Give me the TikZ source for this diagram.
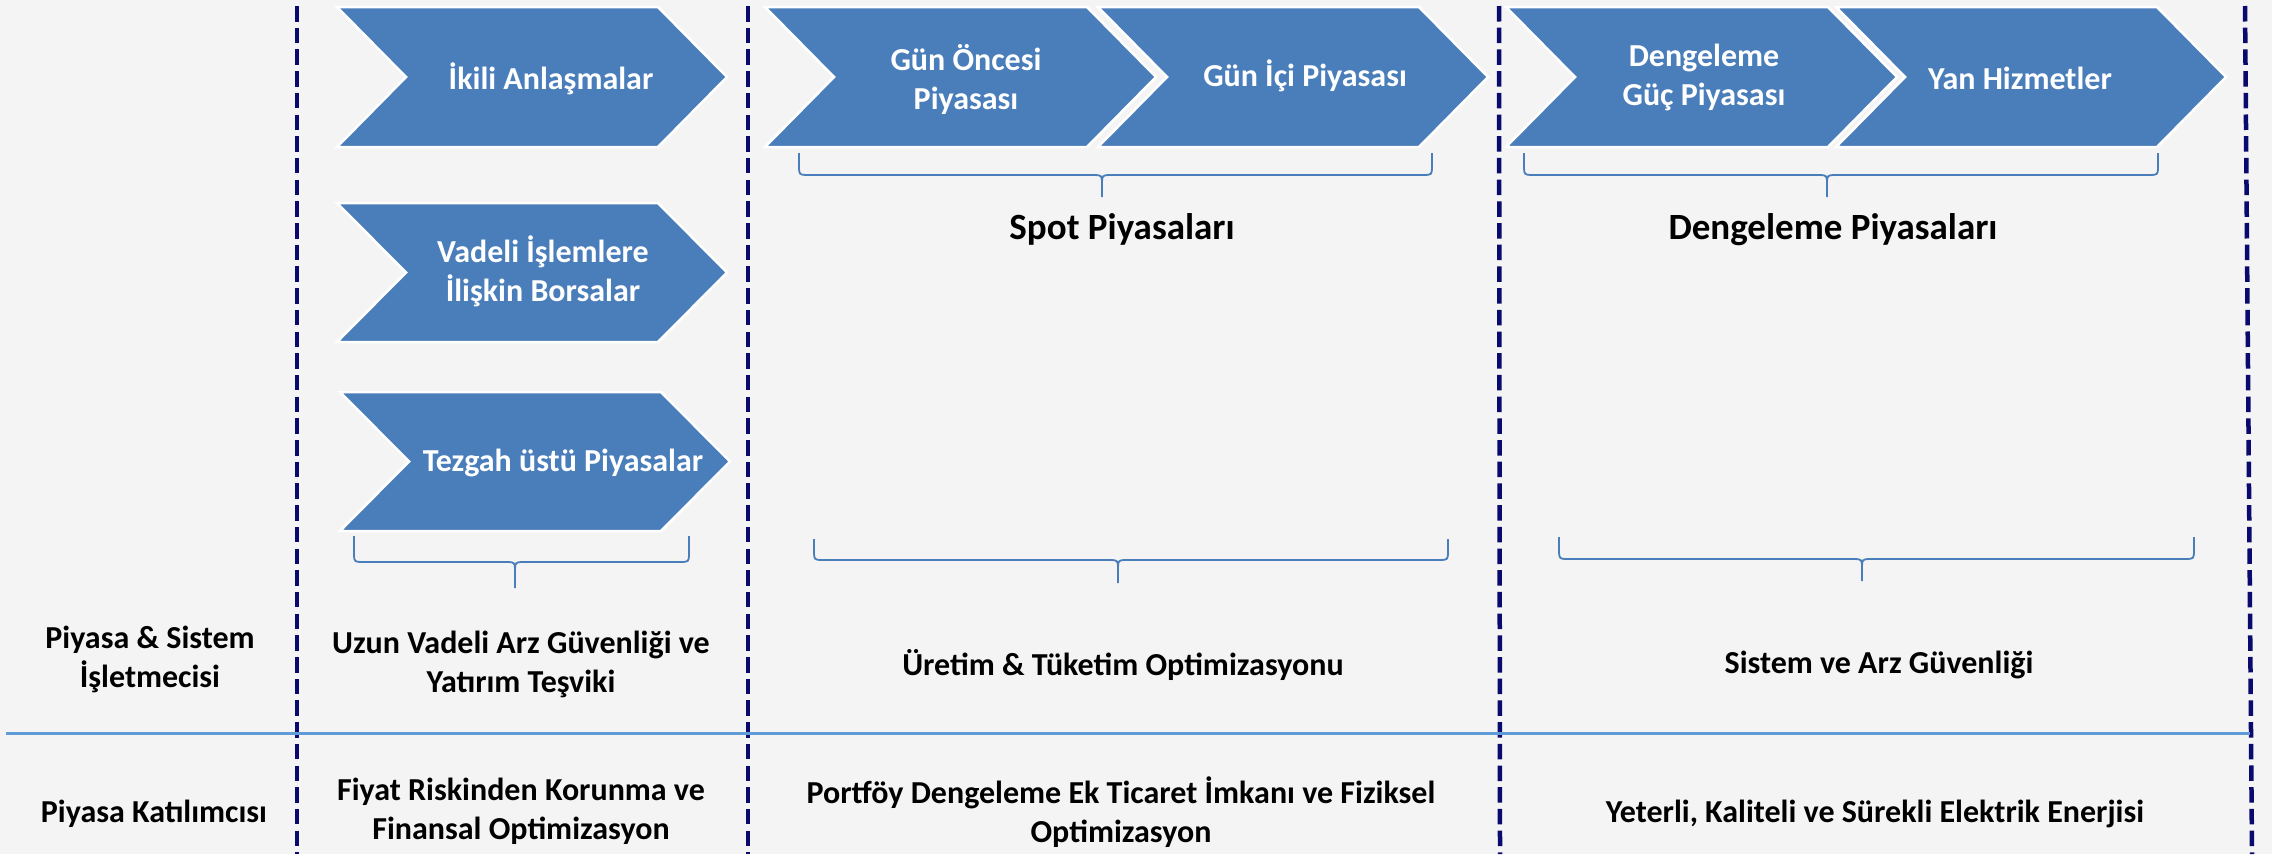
\documentclass[tikz,border=0pt]{standalone}
\usepackage{fontspec}
\setmainfont{Carlito}
\definecolor{bg}{RGB}{244,244,244}
\definecolor{chevblue}{RGB}{74,126,187}
\definecolor{navy}{RGB}{10,10,110}
\definecolor{lineblue}{RGB}{95,155,215}
\newcommand{\chevron}[4]{%
  \path[chev] (#1,#3) -- (#2,#3) -- ({#2+69},{(#3+#4)/2}) -- (#2,#4) -- (#1,#4) -- ({#1+69},{(#3+#4)/2}) -- cycle;}
\newcommand{\mybrace}[6]{% xL xR xC yT yM yB
  \draw[brc] (#1,#4) -- (#1,{#5-7}) .. controls (#1,{#5-1}) and ({#1+1},#5) .. ({#1+7},#5)
     -- ({#3-7},#5) .. controls ({#3-1},#5) and (#3,{#5+1}) .. (#3,{#5+7}) -- (#3,#6);
  \draw[brc] (#2,#4) -- (#2,{#5-7}) .. controls (#2,{#5-1}) and ({#2-1},#5) .. ({#2-7},#5)
     -- ({#3+7},#5) .. controls ({#3+1},#5) and (#3,{#5+1}) .. (#3,{#5+7});}
\begin{document}
\begin{tikzpicture}[x=1pt,y=-1pt,
  chev/.style={fill=chevblue, draw=white, line width=2.5pt, line join=miter},
  chevtext/.style={text=white, font=\fontsize{32}{39}\selectfont\bfseries, align=center, inner sep=0pt},
  lbl/.style={text=black, font=\fontsize{32}{39}\selectfont\bfseries, align=center, inner sep=0pt},
  biglbl/.style={text=black, font=\fontsize{37}{44}\selectfont\bfseries, inner sep=0pt},
  sep/.style={draw=navy, line width=4.5pt, dash pattern=on 15.5pt off 6.2pt},
  brc/.style={draw=chevblue, line width=1.8pt},
  hline/.style={draw=lineblue, line width=3pt}]
\fill[bg] (0,0) rectangle (2272,854);
\useasboundingbox (0,0) rectangle (2272,854);

% separators
\coordinate (s1t) at (297,6);   \coordinate (s1b) at (297,854);
\coordinate (s2t) at (748,6);   \coordinate (s2b) at (748,854);
\coordinate (s3t) at (1499,6);  \coordinate (s3b) at (1500,854);
\coordinate (s4t) at (2245,6);  \coordinate (s4b) at (2252,854);
\draw[sep] (s1t) -- (s1b);
\draw[sep] (s2t) -- (s2b);
\draw[sep] (s3t) -- (s3b);
\draw[sep] (s4t) -- (s4b);

% horizontal line
\coordinate (hl) at (6,733); \coordinate (hr) at (2250,733);
\draw[hline] (hl) -- (hr);

% chevrons
\chevron{337}{658}{7}{147}
\chevron{337}{658}{203}{342}
\chevron{340}{661}{392}{531}
\chevron{765}{1087}{7}{147}
\chevron{1098}{1419}{7}{147}
\chevron{1506}{1828}{7}{147}
\chevron{1836}{2157}{7}{147}

\node[chevtext] (c1) at (551,79) {İkili Anlaşmalar};
\node[chevtext] (c2) at (543,271) {Vadeli İşlemlere\\İlişkin Borsalar};
\node[chevtext] (c3) at (563,463) {Tezgah üstü Piyasalar};
\node[chevtext] (ca) at (966,79) {Gün Öncesi\\Piyasası};
\node[chevtext] (cb) at (1305,76) {Gün İçi Piyasası};
\node[chevtext] (cc) at (1704,77) {Dengeleme\\Güç Piyasası};
\node[chevtext] (cd) at (2020,78) {Yan Hizmetler};

% braces
\mybrace{799}{1432}{1102}{153}{175}{197}
\mybrace{1524}{2158}{1827}{153}{175}{197}
\mybrace{354}{689}{515}{536}{562}{588}
\mybrace{814}{1448}{1118}{539}{560}{583}
\mybrace{1559}{2194}{1862}{537}{559}{581}

\node[biglbl] (spot) at (1122,229) {Spot Piyasaları};
\node[biglbl] (deng) at (1833,230) {Dengeleme Piyasaları};

% row 1
\node[lbl] (r1a) at (150,659) {Piyasa \& Sistem\\İşletmecisi};
\node[lbl] (r1b) at (521,664) {Uzun Vadeli Arz Güvenliği ve\\Yatırım Teşviki};
\node[lbl] (r1c) at (1123,665) {Üretim \& Tüketim Optimizasyonu};
\node[lbl] (r1d) at (1879,665) {Sistem ve Arz Güvenliği};

% row 2
\node[lbl] (r2a) at (154,814) {Piyasa Katılımcısı};
\node[lbl] (r2b) at (521,811) {Fiyat Riskinden Korunma ve\\Finansal Optimizasyon};
\node[lbl] (r2c) at (1121,812) {Portföy Dengeleme Ek Ticaret İmkanı ve Fiziksel\\Optimizasyon};
\node[lbl] (r2d) at (1875,814) {Yeterli, Kaliteli ve Sürekli Elektrik Enerjisi};
\end{tikzpicture}
\end{document}
